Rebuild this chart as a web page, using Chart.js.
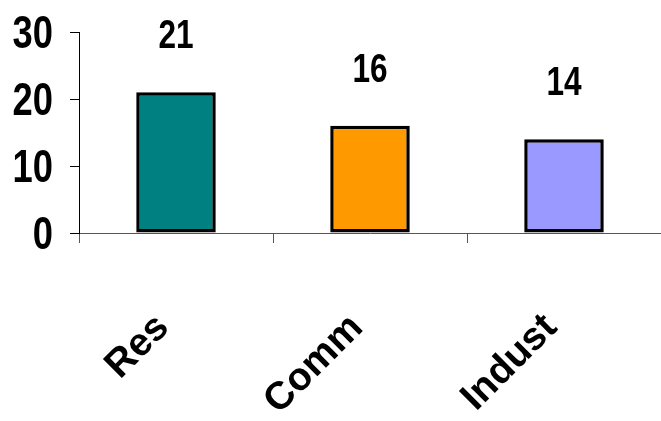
<!DOCTYPE html>
<html>
<head>
<meta charset="utf-8">
<script src="https://cdn.jsdelivr.net/npm/chart.js@4/dist/chart.umd.min.js"></script>
<style>
  body { margin: 0; background: #fff; }
  canvas { display: block; }
</style>
</head>
<body>
<canvas id="myChart" width="661" height="421"></canvas>
<script>
const categories = ["Res", "Comm", "Indust"];
const values = [21, 16, 14];
const barColors = ["#008080", "#FF9900", "#9999FF"];
const yTicks = [0, 10, 20, 30];

const fontFamily = '"Liberation Sans", Arial, sans-serif';
// the numbers in the original use a narrow face, so squeeze them sideways
const narrow = 0.79;

// y tick labels and values above the bars, drawn narrow
const narrowLabels = {
  id: "narrowLabels",
  afterDraw(chart) {
    const ctx = chart.ctx;
    const yScale = chart.scales.y;
    const meta = chart.getDatasetMeta(0);
    ctx.save();
    ctx.fillStyle = "#000";
    ctx.textBaseline = "alphabetic";

    ctx.font = "bold 46px " + fontFamily;
    ctx.textAlign = "right";
    yTicks.forEach(v => {
      const y = yScale.getPixelForValue(v);
      ctx.save();
      ctx.translate(53, y + 16);
      ctx.scale(narrow, 1);
      ctx.fillText(String(v), 0, 0);
      ctx.restore();
    });

    ctx.font = "bold 40px " + fontFamily;
    ctx.textAlign = "center";
    meta.data.forEach((bar, i) => {
      ctx.save();
      ctx.translate(bar.x, bar.y - 44);
      ctx.scale(narrow, 1);
      ctx.fillText(String(values[i]), 0, 0);
      ctx.restore();
    });
    ctx.restore();
  }
};

const ctx = document.getElementById("myChart").getContext("2d");
const myChart = new Chart(ctx, {
  type: "bar",
  data: {
    labels: categories,
    datasets: [{
      data: values,
      backgroundColor: barColors,
      borderColor: "#000",
      borderWidth: 3.5,
      borderSkipped: false,
      barPercentage: 0.41,
      categoryPercentage: 1
    }]
  },
  options: {
    responsive: false,
    animation: false,
    devicePixelRatio: 1,
    layout: { padding: { top: 32, right: 0, left: 0, bottom: 0 } },
    plugins: {
      legend: { display: false },
      tooltip: { enabled: false }
    },
    scales: {
      x: {
        grid: { display: true, drawOnChartArea: false, offset: true, tickLength: 10, color: "#555" },
        border: { color: "#555", width: 1 },
        ticks: {
          color: "#000",
          font: { family: fontFamily, size: 39, weight: "bold" },
          maxRotation: 45,
          minRotation: 45,
          padding: 62,
          labelOffset: -13
        },
        afterFit(scale) {
          scale.height = 188;
          scale.paddingLeft = 0;
          scale.paddingRight = 0;
        }
      },
      y: {
        min: 0,
        max: 30,
        afterBuildTicks(scale) { scale.ticks = yTicks.map(v => ({ value: v })); },
        grid: { display: true, drawOnChartArea: false, tickLength: 9, color: "#000" },
        border: { color: "#000", width: 1 },
        ticks: { display: false },
        afterFit(scale) {
          scale.width = 79;
          scale.paddingTop = 0;
          scale.paddingBottom = 0;
        }
      }
    }
  },
  plugins: [narrowLabels]
});
</script>
</body>
</html>
